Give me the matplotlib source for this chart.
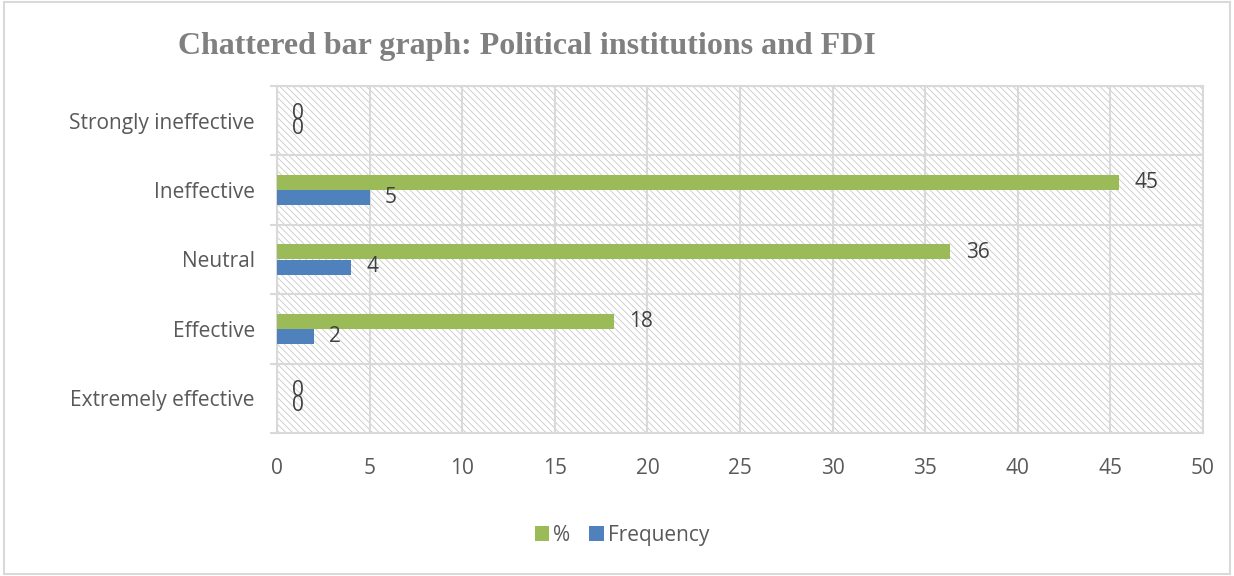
import numpy as np
import matplotlib.pyplot as plt
from matplotlib.patches import Rectangle

# data, bottom to top as drawn
categories = ['Extremely effective', 'Effective', 'Neutral', 'Ineffective', 'Strongly ineffective']
percent = [0, 18.18, 36.36, 45.45, 0]
frequency = [0, 2, 4, 5, 0]
xticks = [0, 5, 10, 15, 20, 25, 30, 35, 40, 45, 50]

green = '#9BBB59'
blue = '#4F81BD'
grid_c = '#d9d9d9'

plt.rcParams['font.family'] = ['Open Sans', 'DejaVu Sans']
plt.rcParams['hatch.linewidth'] = 0.6
plt.rcParams['hatch.color'] = '#c8c8c8'

fig = plt.figure(figsize=(12.34, 5.76), dpi=100)
ax = fig.add_axes([0.2245, 0.2483, 0.7504, 0.6024])

# hatched plot background
ax.add_patch(Rectangle((0, 0), 1, 1, transform=ax.transAxes, facecolor='white',
                       edgecolor='#c8c8c8', hatch='\\\\\\\\\\', lw=0, zorder=0))

y = np.arange(len(categories))
h = 0.215
ax.barh(y + h/2 + 0.005, percent, height=h, color=green, zorder=3, label='%')
ax.barh(y - h/2 - 0.005, frequency, height=h, color=blue, zorder=3, label='Frequency')

fs = 15
for yi, p, f in zip(y, percent, frequency):
    ax.annotate(f'{p:.0f}', xy=(p, yi + h/2), xytext=(11, 0), textcoords='offset points',
                va='center', ha='left', fontsize=fs, color='#404040', zorder=4)
    ax.annotate(f'{f:.0f}', xy=(f, yi - h/2), xytext=(11, 0), textcoords='offset points',
                va='center', ha='left', fontsize=fs, color='#404040', zorder=4)

ax.set_xlim(0, 50)
ax.set_ylim(-0.5, 4.5)
ax.set_xticks(xticks)
ax.set_yticks(np.arange(-0.5, 5, 1))
ax.set_yticklabels([])
ax.set_yticks(y, minor=True)
ax.set_yticklabels(categories, minor=True)

ax.grid(True, which='major', color=grid_c, lw=1.5, zorder=1)
ax.set_axisbelow(True)
for s in ax.spines.values():
    s.set_color(grid_c)
    s.set_linewidth(1.5)

ax.tick_params(axis='x', length=0, pad=18, labelsize=fs, labelcolor='#595959')
ax.tick_params(axis='y', which='major', length=5, width=1.5, color=grid_c)
ax.tick_params(axis='y', which='minor', length=0, pad=16, labelsize=fs, labelcolor='#595959')

fig.text(0.427, 0.92, 'Chattered bar graph: Political institutions and FDI', ha='center', va='center',
         fontsize=23, fontweight='bold', color='#808080', family='Liberation Serif')

fig.legend(loc='center', bbox_to_anchor=(0.504, 0.071), ncol=2, frameon=False,
           fontsize=fs, labelcolor='#595959', handlelength=0.7, handleheight=0.7,
           handletextpad=0.2, columnspacing=0.9)

fig.patches.append(Rectangle((0.003, 0.004), 0.994, 0.992, transform=fig.transFigure,
                             fill=False, edgecolor=grid_c, lw=1.5))

plt.savefig('out.png', dpi=100)
